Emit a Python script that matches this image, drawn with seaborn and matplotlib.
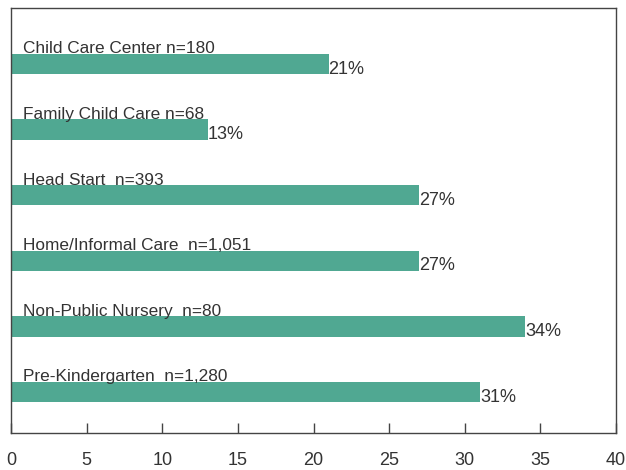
import matplotlib
matplotlib.use('Agg')
import matplotlib.pyplot as plt
import seaborn as sns
import pandas as pd

# ==========================================
# 数据
# ==========================================
categories = ['Child Care Center', 'Family Child Care', 'Head Start',
              'Home/Informal Care', 'Non-Public Nursery', 'Pre-Kindergarten']
n_labels = ['n=180', 'n=68', 'n=393', 'n=1,051', 'n=80', 'n=1,280']
separators = [' ', ' ', '  ', '  ', '  ', '  ']
percents = [21, 13, 27, 27, 34, 31]
x_ticks = [0, 5, 10, 15, 20, 25, 30, 35, 40]

df = pd.DataFrame({'category': categories, 'pct': percents})

sns.set_theme(style='white')
plt.rcParams['font.family'] = ['Liberation Sans', 'DejaVu Sans']
text_color = '#333333'
bar_color = '#50a892'

fig = plt.figure(figsize=(6.26, 4.70), dpi=100)
ax = fig.add_axes([0.0176, 0.0787, 0.9664, 0.9043])

sns.barplot(data=df, y='category', x='pct', orient='h', color=bar_color,
            saturation=1, width=0.31, linewidth=0, ax=ax)

for i, (cat, sep, n, p) in enumerate(zip(categories, separators, n_labels, percents)):
    # 类别标签：基线贴着柱子顶部
    ax.text(0.8, i - 0.16, f'{cat}{sep}{n}', ha='left', va='baseline',
            fontsize=12.4, color=text_color)
    # 百分比：紧贴柱子末端，略偏下
    ax.text(p, i + 0.08, f'{p}%', ha='left', va='center',
            fontsize=13, color=text_color)

ax.set_xlim(0, 40)
ax.set_ylim(5.625, -0.85)
ax.set_xticks(x_ticks)
ax.set_xticklabels([str(t) for t in x_ticks], fontsize=13, color=text_color)
ax.set_yticks([])
ax.set_xlabel('')
ax.set_ylabel('')
ax.tick_params(axis='x', direction='in', length=7, width=1, color='#444444',
               pad=14, bottom=True)
for side in ['top', 'bottom', 'left', 'right']:
    ax.spines[side].set_visible(True)
    ax.spines[side].set_color('#444444')
    ax.spines[side].set_linewidth(1)

fig.savefig('out.png', dpi=100, facecolor='white')
